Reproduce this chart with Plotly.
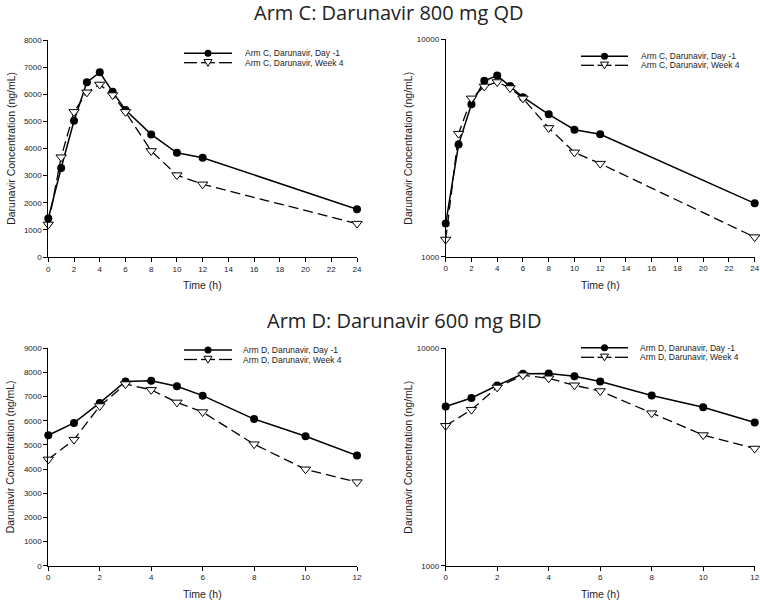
import plotly.graph_objects as go

# ---------------- data ----------------
time_c = [0, 1, 2, 3, 4, 5, 6, 8, 10, 12, 24]
c_day_m1 = [1420, 3280, 5020, 6440, 6810, 6090, 5420, 4520, 3840, 3660, 1760]
c_week4 = [1200, 3680, 5350, 6070, 6360, 5970, 5350, 3910, 3020, 2680, 1230]

time_d = [0, 1, 2, 3, 4, 5, 6, 8, 10, 12]
d_day_m1 = [5400, 5910, 6740, 7630, 7660, 7430, 7040, 6070, 5360, 4560]
d_week4 = [4400, 5220, 6610, 7520, 7280, 6760, 6360, 5030, 3990, 3460]

title_c = "Arm C: Darunavir 800 mg QD"
title_d = "Arm D: Darunavir 600 mg BID"
names_c = ["Arm C, Darunavir, Day -1", "Arm C, Darunavir, Week 4"]
names_d = ["Arm D, Darunavir, Day -1", "Arm D, Darunavir, Week 4"]
y_title = "Darunavir Concentration (ng/mL)"
x_title = "Time (h)"

W, H = 760, 602
TICK_FONT = dict(family="Liberation Sans, Arial", size=8, color="#222")
LEG_FONT = dict(family="Liberation Sans, Arial", size=8.5, color="#222")
AX_FONT = dict(family="Liberation Sans, Arial", size=10.5, color="#222")
TITLE_FONT = dict(family="Open Sans", size=20, color="#222")


def px_x(p):
    return p / W


def px_y(p):
    return 1 - p / H


# panels: axes ids, data, names, log?, ymax, xmax, x-domain px, y-domain px, legend geometry px
panels = [
    ("x", "y", time_c, c_day_m1, c_week4, names_c, False, 8000, 24,
     (48.3, 357), (40, 257), dict(x0=184, x1=232, tx=244, r1=53.3, r2=62.7)),
    ("x2", "y2", time_c, c_day_m1, c_week4, names_c, True, None, 24,
     (445.7, 754.7), (39.3, 256.7), dict(x0=581, x1=628, tx=640, r1=56.3, r2=65.3)),
    ("x3", "y3", time_d, d_day_m1, d_week4, names_d, False, 9000, 12,
     (48.3, 357), (348.3, 565.7), dict(x0=184, x1=232, tx=242, r1=350, r2=359.5)),
    ("x4", "y4", time_d, d_day_m1, d_week4, names_d, True, None, 12,
     (445.7, 754.7), (348.3, 565.7), dict(x0=581, x1=628, tx=639, r1=347.7, r2=357.3)),
]

fig = go.Figure()
layout = dict(
    width=W, height=H,
    margin=dict(l=0, r=0, t=0, b=0, autoexpand=False),
    paper_bgcolor="white", plot_bgcolor="white",
    showlegend=False,
)
annotations = []
shapes = []

for (xa, ya, t, day, wk, names, is_log, ymax, xmax, xd, yd, lg) in panels:
    fig.add_trace(go.Scatter(
        x=t, y=day, name=names[0], mode="lines+markers",
        line=dict(color="black", width=1.5),
        marker=dict(symbol="circle", size=8, color="black"),
        xaxis=xa, yaxis=ya, cliponaxis=False,
    ))
    fig.add_trace(go.Scatter(
        x=t, y=wk, name=names[1], mode="lines+markers",
        line=dict(color="black", width=1.3, dash="10px,5px"),
        marker=dict(symbol="triangle-down", size=9, color="white",
                    line=dict(color="black", width=1)),
        xaxis=xa, yaxis=ya, cliponaxis=False,
    ))
    xkey = "xaxis" if xa == "x" else "xaxis" + xa[1:]
    ykey = "yaxis" if ya == "y" else "yaxis" + ya[1:]
    common = dict(showline=True, linecolor="black", linewidth=1, ticks="outside",
                  ticklen=4, tickcolor="black", showgrid=False, zeroline=False,
                  tickfont=TICK_FONT, automargin=False)
    layout[xkey] = dict(common, domain=[px_x(xd[0]), px_x(xd[1])], anchor=ya,
                        range=[0, xmax], dtick=2, tick0=0)
    if is_log:
        layout[ykey] = dict(common, domain=[px_y(yd[1]), px_y(yd[0])], anchor=xa,
                            type="log", range=[3, 4], tickvals=[1000, 10000],
                            ticktext=["1000", "10000"])
    else:
        layout[ykey] = dict(common, domain=[px_y(yd[1]), px_y(yd[0])], anchor=xa,
                            range=[0, ymax], dtick=1000)

    # ---- legend key (decoration, paper coordinates) ----
    xm = (lg["x0"] + lg["x1"]) / 2
    shapes.append(dict(type="line", xref="paper", yref="paper",
                       x0=px_x(lg["x0"]), x1=px_x(lg["x1"]),
                       y0=px_y(lg["r1"]), y1=px_y(lg["r1"]),
                       line=dict(color="black", width=1.5)))
    shapes.append(dict(type="circle", xref="paper", yref="paper",
                       x0=px_x(xm - 3.5), x1=px_x(xm + 3.5),
                       y0=px_y(lg["r1"] + 3.5), y1=px_y(lg["r1"] - 3.5),
                       fillcolor="black", line=dict(color="black", width=0)))
    shapes.append(dict(type="line", xref="paper", yref="paper",
                       x0=px_x(lg["x0"]), x1=px_x(lg["x0"] + 13),
                       y0=px_y(lg["r2"]), y1=px_y(lg["r2"]),
                       line=dict(color="black", width=1.3)))
    shapes.append(dict(type="line", xref="paper", yref="paper",
                       x0=px_x(lg["x1"] - 13), x1=px_x(lg["x1"]),
                       y0=px_y(lg["r2"]), y1=px_y(lg["r2"]),
                       line=dict(color="black", width=1.3)))
    shapes.append(dict(type="line", xref="paper", yref="paper",
                       x0=px_x(xm - 7), x1=px_x(xm + 7),
                       y0=px_y(lg["r2"]), y1=px_y(lg["r2"]),
                       line=dict(color="black", width=1.3)))
    tri = "M {:.5f},{:.5f} L {:.5f},{:.5f} L {:.5f},{:.5f} Z".format(
        px_x(xm - 4.0), px_y(lg["r2"] - 3.2),
        px_x(xm + 4.0), px_y(lg["r2"] - 3.2),
        px_x(xm), px_y(lg["r2"] + 3.6))
    shapes.append(dict(type="path", xref="paper", yref="paper", path=tri,
                       fillcolor="white", line=dict(color="black", width=1)))
    for name, row in ((names[0], lg["r1"]), (names[1], lg["r2"])):
        annotations.append(dict(text=name, xref="paper", yref="paper",
                                x=px_x(lg["tx"]), y=px_y(row), showarrow=False,
                                font=LEG_FONT, xanchor="left", yanchor="middle",
                                borderpad=0))

    # axis titles
    annotations.append(dict(text=y_title, xref="paper", yref="paper",
                            x=px_x(xd[0] - 38), y=px_y((yd[0] + yd[1]) / 2),
                            textangle=-90, showarrow=False, font=AX_FONT,
                            xanchor="center", yanchor="middle"))
    annotations.append(dict(text=x_title, xref="paper", yref="paper",
                            x=px_x((xd[0] + xd[1]) / 2), y=px_y(yd[1] + 28),
                            showarrow=False, font=AX_FONT,
                            xanchor="center", yanchor="middle"))

annotations.append(dict(text=title_c, xref="paper", yref="paper", x=px_x(389), y=px_y(13),
                        showarrow=False, font=TITLE_FONT, xanchor="center", yanchor="middle"))
annotations.append(dict(text=title_d, xref="paper", yref="paper", x=px_x(404), y=px_y(320),
                        showarrow=False, font=TITLE_FONT, xanchor="center", yanchor="middle"))
layout["annotations"] = annotations
layout["shapes"] = shapes
fig.update_layout(**layout)
fig.write_html("out.html", config={"displayModeBar": False},
               post_script="document.body.style.margin='0';document.body.style.padding='0';")
